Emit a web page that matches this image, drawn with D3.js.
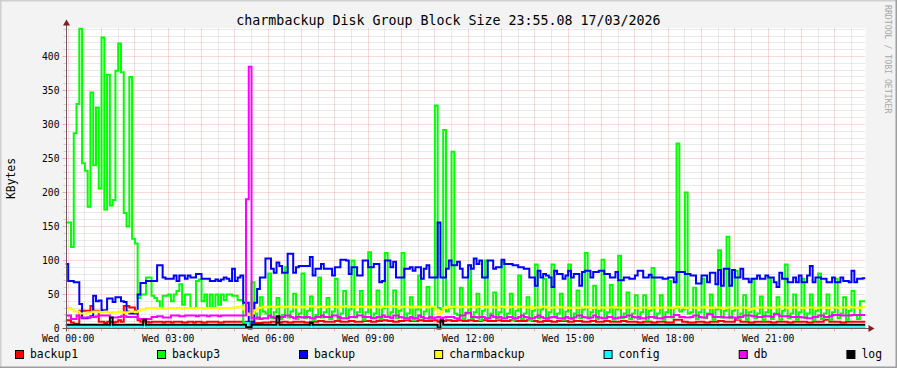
<!DOCTYPE html>
<html>
<head>
<meta charset="utf-8">
<script src="https://cdn.jsdelivr.net/npm/d3@7/dist/d3.min.js"></script>
<style>
    html, body { margin: 0; padding: 0; background: #f3f3f3; }
    svg { display: block; font-family: "DejaVu Sans Mono", monospace; }
</style>
</head>
<body>
<svg id="chart" width="897" height="368"></svg>
<script>
const title = "charmbackup Disk Group Block Size 23:55.08 17/03/2026";
const yLabel = "KBytes";
const watermark = "RRDTOOL / TOBI OETIKER";

// x ticks, in minutes from Wed 00:00
const xTickMinutes = [0, 180, 360, 540, 720, 900, 1080, 1260];
const xTickLabels = ["Wed 00:00", "Wed 03:00", "Wed 06:00", "Wed 09:00", "Wed 12:00", "Wed 15:00", "Wed 18:00", "Wed 21:00"];
const yTicks = [0, 50, 100, 150, 200, 250, 300, 350, 400];

// 5 minute samples, first one starts Tue 23:55
const stepStart = -5;
const stepMinutes = 5;

const backup1 = [
    12,12,9,7,7,26,26,26,26,33,26,26,
    10,10,8,10,10,9,10,12,10,33,33,31,
    31,26,12,10,10,10,9,10,10,10,10,9,
    10,10,9,10,10,10,9,9,10,10,9,10,
    10,9,9,10,10,10,10,9,9,10,10,10,
    10,10,10,10,9,10,10,8,8,8,8,9,
    9,9,10,10,9,9,10,10,9,9,10,10,
    10,10,9,9,10,10,10,11,11,10,10,10,
    10,11,11,10,10,10,11,11,10,10,10,11,
    11,11,10,10,11,11,12,12,11,11,10,10,
    11,11,12,12,11,11,11,12,12,11,11,11,
    12,12,10,10,11,12,12,11,11,12,12,11,
    11,12,12,11,11,11,12,12,11,11,11,12,
    12,11,11,11,12,12,11,11,11,11,12,12,
    11,11,10,10,11,11,11,10,10,11,11,11,
    11,10,10,11,11,11,10,10,10,11,11,10,
    10,10,11,11,10,10,10,10,11,11,10,10,
    10,10,9,9,10,10,10,9,9,10,10,10,
    9,9,9,13,13,13,10,10,9,9,9,10,
    10,10,9,9,10,10,10,11,11,10,10,10,
    10,13,13,10,10,10,9,9,10,10,10,10,
    10,10,9,9,10,10,10,10,9,9,10,10,
    10,10,10,9,9,10,10,10,10,13,13,10,
    10,10,10,9,9,10,10,10,10,10,10,10
];

const backup3 = [
    156,156,120,287,330,441,243,232,179,347,240,325,
    206,428,175,373,181,189,379,419,377,170,150,370,
    132,125,45,50,50,75,75,48,45,40,30,48,
    48,50,40,50,55,65,35,50,50,30,30,70,
    72,40,50,30,50,30,50,35,50,42,50,50,
    48,48,42,42,8,8,8,68,22,14,46,25,
    22,81,15,24,45,14,20,90,16,25,51,14,
    22,81,15,26,47,12,20,75,16,24,45,14,
    25,73,14,22,55,15,28,100,16,24,55,13,
    24,112,16,22,56,14,30,111,18,24,56,15,
    26,111,14,22,46,12,28,78,16,25,61,14,
    30,328,30,28,292,25,30,260,22,20,60,14,
    22,93,15,24,51,12,26,100,15,22,53,14,
    24,98,15,22,51,13,26,78,14,22,46,12,
    26,94,15,28,73,14,24,94,16,22,51,13,
    25,94,14,22,56,15,28,111,16,24,63,14,
    26,101,15,24,64,13,28,107,15,22,53,14,
    22,49,14,24,49,12,26,89,15,22,49,13,
    24,70,16,30,272,25,28,200,22,24,60,14,
    24,73,15,22,50,13,28,115,16,26,135,15,
    26,85,14,22,49,13,24,73,15,22,47,12,
    24,73,14,22,46,13,26,94,15,22,50,13,
    24,73,15,22,50,12,26,81,14,22,50,13,
    24,73,15,22,46,13,26,55,20,14,40,40
];

const backup = [
    95,70,70,68,68,36,15,15,16,18,48,40,
    41,27,27,44,44,39,46,46,40,39,25,22,
    22,22,50,67,67,70,70,70,70,93,93,75,
    73,73,73,78,70,78,78,73,78,75,75,80,
    80,73,73,73,70,70,72,70,72,75,73,70,
    88,70,75,78,38,38,0,10,38,58,75,75,
    103,103,88,82,97,92,82,82,110,110,82,90,
    92,92,92,92,105,78,88,88,95,88,88,88,
    78,90,90,101,101,100,80,90,90,78,78,100,
    100,90,90,95,95,68,70,100,100,90,98,75,
    75,75,88,88,90,85,90,90,73,88,93,75,
    75,75,156,75,75,88,100,93,93,98,88,75,
    75,93,88,103,95,100,75,75,100,100,88,90,
    90,101,95,95,95,93,93,90,90,88,88,75,
    75,63,85,75,80,78,75,61,85,80,80,73,
    78,85,75,80,80,63,83,85,85,75,83,83,
    85,85,80,80,75,75,83,71,71,75,75,73,
    73,78,85,85,75,75,79,75,75,75,75,73,
    73,75,75,68,83,83,83,80,80,78,78,66,
    66,78,78,68,82,82,65,86,63,88,88,63,
    86,75,75,88,73,73,68,73,73,78,73,73,
    78,75,75,68,61,82,73,73,68,68,75,68,
    78,68,68,78,92,68,75,75,73,73,68,68,
    75,68,68,75,70,70,68,85,68,73,73,74
];

const charmbackup = [
    30,30,28,25,25,22,22,22,24,24,25,25,
    24,24,25,24,23,24,24,25,24,23,24,25,
    25,24,26,28,28,30,30,30,30,29,30,29,
    29,30,30,29,30,30,29,30,30,30,29,30,
    30,30,29,30,30,30,30,29,30,30,30,30,
    31,31,32,32,28,22,20,22,27,30,31,32,
    31,32,32,31,32,32,31,32,32,32,31,32,
    32,31,32,32,33,32,31,32,32,31,32,32,
    32,32,31,32,32,33,32,32,31,32,32,32,
    32,31,32,32,32,31,32,32,32,33,32,32,
    31,32,32,32,31,32,32,31,32,32,31,32,
    32,28,21,24,30,32,31,32,32,31,32,32,
    31,32,32,31,32,32,32,31,32,32,31,31,
    32,32,31,31,32,32,31,32,32,31,31,32,
    30,31,31,32,32,31,30,31,31,32,31,31,
    31,30,31,31,30,31,31,32,31,30,31,31,
    31,31,30,31,31,32,31,31,30,31,31,31,
    31,30,30,31,31,31,30,31,31,30,31,31,
    31,31,30,31,32,31,31,30,31,31,31,30,
    31,31,32,31,30,31,31,31,30,30,31,31,
    31,30,31,31,31,30,28,29,30,31,31,31,
    31,31,30,31,31,32,31,31,30,31,31,31,
    31,30,31,31,31,31,30,31,31,31,30,31,
    31,31,30,31,31,31,32,31,31,30,31,32
];

const config = [
    2,2,2,2,2,2,2,2,2,2,2,2,
    2,2,2,2,6,2,2,2,2,2,2,2,
    2,2,2,2,6,2,2,2,2,2,2,2,
    2,2,2,2,2,2,2,2,2,2,2,2,
    2,2,2,2,2,2,2,2,2,2,2,2,
    2,2,2,2,2,8,2,2,2,2,2,2,
    2,2,2,2,2,2,2,2,2,2,2,2,
    2,2,2,2,5,2,2,2,2,2,2,2,
    2,2,2,2,2,2,2,2,2,2,2,2,
    2,2,2,2,2,2,2,2,2,2,2,2,
    2,2,2,2,2,2,2,2,2,2,2,2,
    2,2,2,2,2,2,2,2,2,2,2,2,
    2,2,2,2,2,2,2,2,2,2,2,2,
    2,2,2,2,2,2,2,2,2,2,2,2,
    2,2,2,2,2,2,2,2,2,2,2,2,
    2,2,2,2,2,2,2,2,2,2,2,2,
    2,2,2,2,2,2,2,2,2,2,2,2,
    2,2,2,2,2,2,2,2,2,2,2,2,
    2,2,2,2,2,2,2,2,2,2,2,2,
    2,2,2,2,2,2,2,2,2,2,2,2,
    2,2,2,2,2,2,2,2,2,2,2,2,
    2,2,2,2,2,2,2,2,2,2,2,2,
    2,2,2,2,2,2,2,2,2,2,2,2,
    2,2,2,2,2,2,2,2,2,2,2,2
];

const db = [
    19,19,14,14,19,16,16,16,16,17,17,18,
    19,19,19,19,16,16,16,17,18,18,17,17,
    17,17,14,14,14,14,14,17,17,18,18,16,
    16,16,19,19,19,18,18,19,19,19,19,18,
    19,19,19,18,19,19,19,18,19,19,19,19,
    19,19,19,19,19,190,385,15,15,16,14,15,
    15,19,17,15,15,17,17,19,19,17,15,17,
    17,16,17,17,15,15,17,17,19,17,17,17,
    19,19,17,15,15,15,17,17,17,19,19,17,
    17,17,15,15,17,17,19,17,17,15,19,19,
    17,16,15,15,17,15,15,19,17,15,15,17,
    15,16,17,15,16,17,17,17,15,15,19,19,
    23,23,17,17,16,17,17,15,15,19,17,16,
    17,15,15,17,17,15,15,17,19,17,16,15,
    15,17,19,17,15,15,16,17,17,15,15,15,
    17,15,15,16,19,19,17,16,15,16,19,17,
    16,15,15,17,17,15,15,16,17,17,19,19,
    17,16,17,15,15,16,17,17,16,15,15,16,
    17,17,17,20,20,17,17,16,16,17,19,19,
    17,16,16,21,21,17,17,17,17,16,16,17,
    16,15,17,17,19,19,19,18,18,17,17,18,
    18,18,17,21,21,18,18,18,18,17,17,17,
    17,16,16,15,15,17,17,19,19,17,17,18,
    20,20,20,19,19,19,19,20,20,20,20,20
];

const log = [
    5.5,5.5,5.5,5.5,5.5,5.5,5.5,5.5,5.5,5.5,5.5,5.5,
    5.5,5.5,5.5,5.5,16,5.5,5.5,5.5,5.5,5.5,5.5,5.5,
    5.5,5.5,5.5,5.5,13,5.5,5.5,5.5,5.5,5.5,5.5,5.5,
    5.5,5.5,5.5,5.5,5.5,5.5,5.5,5.5,5.5,5.5,5.5,5.5,
    5.5,5.5,5.5,5.5,5.5,5.5,5.5,5.5,5.5,5.5,5.5,5.5,
    5.5,5.5,5.5,5.5,5.5,2,2,5.5,5.5,5.5,5.5,5.5,
    5.5,5.5,5.5,5.5,18,5.5,5.5,5.5,5.5,5.5,5.5,5.5,
    5.5,5.5,5.5,5.5,8,5.5,5.5,5.5,5.5,5.5,5.5,5.5,
    5.5,5.5,5.5,5.5,5.5,5.5,5.5,5.5,5.5,5.5,5.5,5.5,
    5.5,5.5,5.5,5.5,5.5,5.5,5.5,5.5,5.5,5.5,5.5,5.5,
    5.5,5.5,5.5,5.5,5.5,5.5,5.5,5.5,5.5,5.5,5.5,5.5,
    5.5,5.5,0,12,5.5,5.5,5.5,5.5,5.5,5.5,5.5,5.5,
    5.5,5.5,5.5,5.5,5.5,5.5,5.5,5.5,5.5,5.5,5.5,5.5,
    5.5,5.5,5.5,5.5,5.5,5.5,5.5,5.5,5.5,5.5,5.5,5.5,
    5.5,5.5,5.5,5.5,5.5,5.5,5.5,5.5,5.5,5.5,5.5,5.5,
    5.5,5.5,5.5,5.5,5.5,5.5,5.5,5.5,5.5,5.5,5.5,5.5,
    5.5,5.5,5.5,5.5,5.5,5.5,5.5,5.5,5.5,5.5,5.5,5.5,
    5.5,5.5,5.5,5.5,5.5,5.5,5.5,5.5,5.5,5.5,5.5,5.5,
    5.5,5.5,5.5,5.5,5.5,5.5,5.5,5.5,5.5,5.5,5.5,5.5,
    5.5,5.5,5.5,5.5,5.5,5.5,5.5,5.5,5.5,5.5,5.5,5.5,
    5.5,5.5,5.5,5.5,5.5,5.5,5.5,5.5,5.5,5.5,5.5,5.5,
    5.5,5.5,5.5,5.5,5.5,5.5,5.5,5.5,5.5,5.5,5.5,5.5,
    5.5,5.5,5.5,5.5,5.5,5.5,5.5,5.5,5.5,5.5,5.5,5.5,
    5.5,5.5,5.5,5.5,5.5,5.5,5.5,5.5,5.5,5.5,5.5,5.5
];

const seriesNames = ["backup1", "backup3", "backup", "charmbackup", "config", "db", "log"];
const seriesValues = [backup1, backup3, backup, charmbackup, config, db, log];
const seriesColors = ["#ff0000", "#00ff00", "#0000ff", "#ffff00", "#00ffff", "#ff00ff", "#000000"];

const width = 897, height = 368;
const svg = d3.select("#chart");

// background + 3d shade border
svg.append("rect").attr("width", width).attr("height", height).attr("fill", "#f3f3f3");
svg.append("path").attr("d", `M0,${height} V0 H${width}`)
    .attr("fill", "none").attr("stroke", "#cfcfcf").attr("stroke-width", 3);
svg.append("path").attr("d", `M0,${height} H${width} V0`)
    .attr("fill", "none").attr("stroke", "#9e9e9e").attr("stroke-width", 3);

// scales
const x = d3.scaleLinear().domain([-4.87, 1435.13]).range([65.5, 865.5]);
const y = d3.scaleLinear().domain([0, 441.2]).range([328.5, 28.5]);
const px = v => Math.floor(v) + 0.5;
const [x0, x1] = x.range();
const [y0, y1] = y.range();

// canvas
svg.append("rect")
    .attr("x", x0).attr("y", y1 - 0.5)
    .attr("width", x1 - x0).attr("height", y0 - y1)
    .attr("fill", "#ffffff");

const gridMinor = "rgba(143,143,143,0.38)";
const gridMajor = "rgba(222,48,48,0.36)";

// vertical grid: every 30 min minor, every hour major
const vGrid = d3.range(0, 1440, 30).filter(m => x(m) <= x1);
svg.append("g").selectAll("line")
    .data(vGrid)
    .join("line")
    .attr("x1", d => px(x(d))).attr("x2", d => px(x(d)))
    .attr("y1", y1).attr("y2", y0)
    .attr("stroke", d => d % 60 === 0 ? gridMajor : gridMinor)
    .attr("stroke-dasharray", "1,1");
// small ticks below the axis
svg.append("g").selectAll("line")
    .data(vGrid)
    .join("line")
    .attr("x1", d => px(x(d))).attr("x2", d => px(x(d)))
    .attr("y1", y0).attr("y2", d => y0 + (d % 60 === 0 ? 3 : 2))
    .attr("stroke", d => d % 60 === 0 ? gridMajor : gridMinor);

// horizontal grid: every 10 minor, every 50 major
const hGrid = d3.range(10, 441, 10);
svg.append("g").selectAll("line")
    .data(hGrid)
    .join("line")
    .attr("x1", x0).attr("x2", x1)
    .attr("y1", d => px(y(d))).attr("y2", d => px(y(d)))
    .attr("stroke", d => d % 50 === 0 ? gridMajor : gridMinor)
    .attr("stroke-dasharray", "1,1");
svg.append("g").selectAll("line")
    .data(hGrid)
    .join("line")
    .attr("x1", d => x0 - (d % 50 === 0 ? 3 : 2)).attr("x2", x0)
    .attr("y1", d => px(y(d))).attr("y2", d => px(y(d)))
    .attr("stroke", d => d % 50 === 0 ? gridMajor : gridMinor);

// data lines, drawn in legend order
svg.append("clipPath").attr("id", "canvas-clip")
    .append("rect").attr("x", x0).attr("y", 0).attr("width", x1 - x0).attr("height", 340);

const line = d3.line()
    .x(d => x(d.t))
    .y(d => y(d.v))
    .curve(d3.curveStepAfter);

const toPoints = values => {
    const pts = values.map((v, i) => ({ t: stepStart + i * stepMinutes, v: v }));
    pts.push({ t: stepStart + values.length * stepMinutes, v: values[values.length - 1] });
    return pts;
};

svg.append("g")
    .attr("clip-path", "url(#canvas-clip)")
    .selectAll("path")
    .data(seriesValues)
    .join("path")
    .attr("d", d => line(toPoints(d)))
    .attr("fill", "none")
    .attr("stroke", (d, i) => seriesColors[i])
    .attr("stroke-width", 2)
    .attr("stroke-linejoin", "miter");

// axes with arrows
const axisColor = "#6b5a5a";
const arrowColor = "#7f1f1f";
svg.append("line").attr("x1", x0 - 3).attr("x2", x1 + 4).attr("y1", y0).attr("y2", y0)
    .attr("stroke", axisColor);
svg.append("line").attr("x1", x0 + 1).attr("x2", x0 + 1).attr("y1", y0 + 3).attr("y2", y1 - 5)
    .attr("stroke", axisColor);
svg.append("path")
    .attr("d", `M${x1 + 3},${y0 - 3.5} L${x1 + 9},${y0} L${x1 + 3},${y0 + 3.5} Z`)
    .attr("fill", arrowColor);
svg.append("path")
    .attr("d", `M${x0 - 2.5},${y1 - 3} L${x0 + 1},${y1 - 9} L${x0 + 4.5},${y1 - 3} Z`)
    .attr("fill", arrowColor);

// tick labels
svg.append("g").selectAll("text")
    .data(yTicks)
    .join("text")
    .attr("x", 59.5)
    .attr("y", d => y(d))
    .attr("dy", "0.35em")
    .attr("text-anchor", "end")
    .style("font-size", "9.7px")
    .text(d => d);

svg.append("g").selectAll("text")
    .data(xTickMinutes)
    .join("text")
    .attr("x", d => x(d))
    .attr("y", 341.5)
    .attr("text-anchor", "middle")
    .style("font-size", "9.7px")
    .text((d, i) => xTickLabels[i]);

// title, y label, watermark
svg.append("text")
    .attr("x", 448.5).attr("y", 25)
    .attr("text-anchor", "middle")
    .style("font-size", "13.3px")
    .text(title);

svg.append("text")
    .attr("transform", `translate(14.5, ${(y0 + y1) / 2}) rotate(-90)`)
    .attr("text-anchor", "middle")
    .style("font-size", "11.4px")
    .text(yLabel);

svg.append("text")
    .attr("transform", "translate(884.5, 5) rotate(90)")
    .style("font-size", "8.2px")
    .attr("fill", "#a8a8a8")
    .text(watermark);

// legend, justified between 15 and 882
const legend = svg.append("g");
const items = seriesNames.map((name, i) => {
    const g = legend.append("g");
    g.append("rect")
        .attr("x", 0.5).attr("y", 350.5)
        .attr("width", 8).attr("height", 8)
        .attr("fill", seriesColors[i])
        .attr("stroke", "#000");
    const t = g.append("text")
        .attr("x", 15).attr("y", 358)
        .style("font-size", "11.4px")
        .text(name);
    return { g: g, w: 15 + t.node().getComputedTextLength() };
});
const legendLeft = 15, legendRight = 882;
const gap = (legendRight - legendLeft - d3.sum(items, d => d.w)) / (items.length - 1);
let pos = legendLeft;
items.forEach(item => {
    item.g.attr("transform", `translate(${pos}, 0)`);
    pos += item.w + gap;
});
</script>
</body>
</html>
